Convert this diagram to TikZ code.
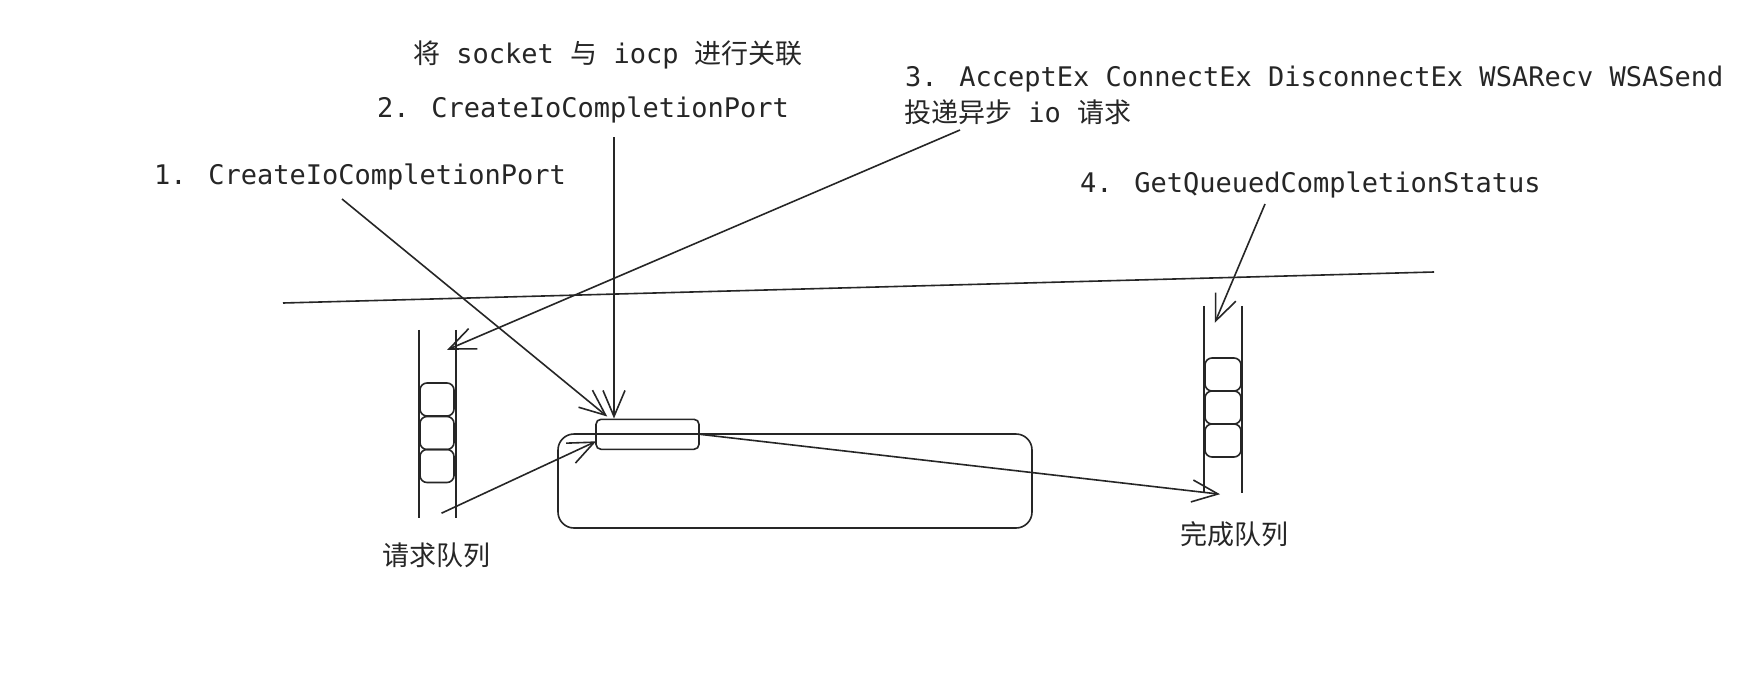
\documentclass[tikz,border=0pt]{standalone}
\usepackage{fontspec}
\setmainfont{DejaVu Sans Mono}
\newfontfamily\cjk{Noto Sans CJK SC}
\usetikzlibrary{arrows.meta}
\begin{document}
\begin{tikzpicture}[x=1pt,y=-1pt]
\tikzset{
  ln/.style={draw=black!85,line width=1.6pt},
  arr/.style={ln,-{Straight Barb[length=26pt,width=22pt]}},
  lbl/.style={anchor=base west,inner sep=0pt,text=black!85,font=\fontsize{27}{32}\selectfont},
  qbox/.style={draw=black!85,line width=1.6pt,rounded corners=7pt,minimum width=34pt,minimum height=33pt,inner sep=0pt},
  tube/.style={minimum width=37pt,minimum height=188pt,inner sep=0pt}
}
\useasboundingbox[fill=white] (0,0) rectangle (1751,688);

% texts
\node[lbl] (tassoc) at (413,63) {{\cjk 将} socket {\cjk 与} iocp {\cjk 进行关联}};
\node[lbl] (t2) at (377,117) {2. CreateIoCompletionPort};
\node[lbl] (t1) at (154,184) {1. CreateIoCompletionPort};
\node[lbl] (t3) at (905,86) {3. AcceptEx ConnectEx DisconnectEx WSARecv WSASend};
\node[lbl] (t3b) at (904,122) {{\cjk 投递异步} io {\cjk 请求}};
\node[lbl] (t4) at (1080,192) {4. GetQueuedCompletionStatus};
\node[lbl,font=\cjk\fontsize{27}{32}\selectfont] (lqlabel) at (382,565) {请求队列};
\node[lbl,font=\cjk\fontsize{27}{32}\selectfont] (cqlabel) at (1180,544) {完成队列};

% horizontal line
\coordinate (hl1) at (283,303);
\coordinate (hl2) at (1434,272);
\draw[ln] (hl1) -- (hl2);

% request queue
\node[tube] (lq) at (437.5,424) {};
\draw[ln] (lq.north west) -- (lq.south west);
\draw[ln] (lq.north east) -- (lq.south east);
\node[qbox] (lq1) at (437,399.5) {};
\node[qbox] (lq2) at (437,433) {};
\node[qbox] (lq3) at (437,466) {};

% completion queue
\node[tube,minimum width=38pt,minimum height=187pt] (cq) at (1223,399.5) {};
\draw[ln] (cq.north west) -- (cq.south west);
\draw[ln] (cq.north east) -- (cq.south east);
\node[qbox,minimum width=36pt] (cq1) at (1223,374.5) {};
\node[qbox,minimum width=36pt] (cq2) at (1223,407.5) {};
\node[qbox,minimum width=36pt] (cq3) at (1223,440.5) {};

% iocp box and port
\node[ln,rounded corners=16pt,minimum width=474pt,minimum height=94pt,inner sep=0pt] (big) at (795,481) {};
\node[ln,rounded corners=5pt,minimum width=103pt,minimum height=30pt,inner sep=0pt] (port) at (647.5,434.3) {};

% arrows
\coordinate (s1) at (342,199);
\coordinate (s2) at (614,137);
\coordinate (s3) at (960,130);
\coordinate (s4) at (1265,204);
\draw[arr] (s1) -- ([shift={(12,-2)}]port.north west);
\draw[arr] (s2) -- (s2 |- port.north);
\draw[arr] (s3) -- ([shift={(-9,20)}]lq.north east);
\draw[arr] (s4) -- ([shift={(11,17)}]cq.north west);
\draw[arr] ([shift={(4,-5)}]lq.south) -- ([shift={(1,7)}]port.west);
\draw[arr] (port.east) -- ([shift={(-3,1)}]cq.south);
\end{tikzpicture}
\end{document}
